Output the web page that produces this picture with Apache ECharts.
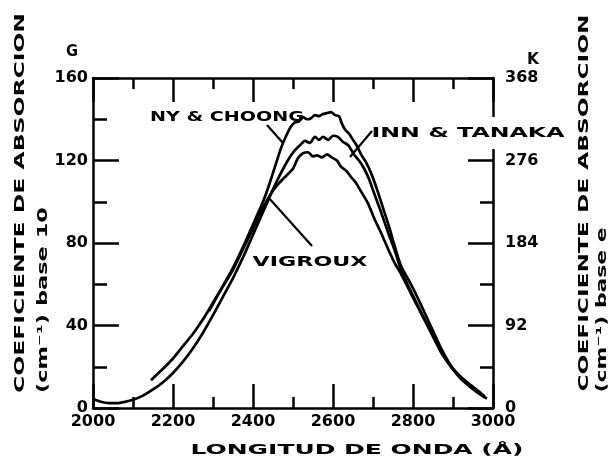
<!DOCTYPE html>
<html>
<head>
<meta charset="utf-8">
<script src="https://cdn.jsdelivr.net/npm/echarts@6/dist/echarts.min.js"></script>
<style>
  html, body { margin: 0; padding: 0; background: #fff; }
  #chart { width: 616px; height: 464px; }
</style>
</head>
<body>
<div id="chart"></div>
<script>
// ---- Data ----
const xTicks = [2000, 2200, 2400, 2600, 2800, 3000];
const yTicksBase10 = [0, 40, 80, 120, 160];
const yTicksBaseE = [0, 92, 184, 276, 368];

const wlNY = [2290, 2310, 2330, 2350, 2375, 2400, 2425, 2440, 2455, 2470, 2483, 2495, 2505, 2515, 2525, 2535, 2545, 2555, 2565, 2575, 2585, 2595, 2605, 2615, 2622, 2630, 2640, 2650, 2660, 2670, 2683, 2695, 2710, 2725, 2740, 2755, 2770, 2795, 2820, 2845, 2870, 2895, 2920, 2945, 2965, 2980];
const valNY = [47, 54, 61, 68, 78, 89, 100, 108, 117, 126, 132, 136.5, 138.5, 139, 141, 140, 140.5, 142, 141.5, 142.5, 143, 143.5, 142, 141.5, 138, 135, 133, 130, 127, 123, 119, 114, 106, 97, 88, 78, 69, 60, 50, 39.5, 29, 20.5, 15, 11, 8, 5.5];

const wlInn = [2000, 2020, 2040, 2060, 2080, 2100, 2125, 2150, 2175, 2200, 2225, 2250, 2275, 2300, 2325, 2350, 2375, 2400, 2425, 2450, 2470, 2490, 2505, 2518, 2530, 2542, 2555, 2565, 2575, 2588, 2600, 2612, 2625, 2638, 2652, 2665, 2678, 2690, 2703, 2720, 2738, 2755, 2770, 2795, 2820, 2845, 2870, 2895, 2920, 2945, 2965, 2985];
const valInn = [4.5, 3, 2.4, 2.4, 3, 4, 6, 9, 12.5, 17, 22.5, 29, 36.5, 45, 54, 63, 73, 84, 95, 106, 114, 121, 125, 127.5, 129.5, 128.5, 131.5, 130, 131.5, 130, 132, 131.5, 129, 127.5, 123, 120, 116, 111, 104, 95, 85, 76, 67, 56.5, 46.5, 37, 27.5, 20, 14.5, 10, 7, 4.5];

const wlVig = [2145, 2175, 2200, 2225, 2250, 2275, 2300, 2325, 2350, 2375, 2400, 2425, 2445, 2465, 2485, 2500, 2512, 2525, 2538, 2550, 2560, 2572, 2585, 2597, 2610, 2620, 2633, 2645, 2658, 2670, 2688, 2703, 2720, 2738, 2755, 2770, 2795, 2820, 2845, 2870, 2895, 2920, 2945, 2960];
const valVig = [13.5, 19, 24, 30, 36, 43, 51, 59, 67, 77, 87, 97, 104, 109, 113, 116, 121, 123.5, 124, 122, 122.5, 121.5, 123, 121.5, 120, 117, 115, 112, 109, 105, 99, 92, 85, 77, 70, 65, 55.5, 46, 36.5, 27, 20, 14, 10, 8];

const seriesNames = ['NY & CHOONG', 'INN & TANAKA', 'VIGROUX'];

// ---- Chart ----
const FAMILY = '"DejaVu Sans", sans-serif';
const zip = (xs, ys) => xs.map((x, i) => [x, ys[i]]);

const measureCtx = document.createElement('canvas').getContext('2d');
function measure(text, size) {
  measureCtx.font = 'bold ' + size + 'px "DejaVu Sans"';
  return measureCtx.measureText(text).width;
}
function stretched(text, cx, cy, len, size, vertical, extra) {
  const w = measure(text, size);
  return {
    type: 'text', x: cx, y: cy, z: 100,
    rotation: vertical ? Math.PI / 2 : 0,
    scaleX: len / w,
    style: Object.assign({
      text: text, fill: '#000',
      font: 'bold ' + size + 'px "DejaVu Sans"',
      align: 'center', verticalAlign: 'middle',
      textAlign: 'center', textVerticalAlign: 'middle'
    }, extra || {})
  };
}
function line(x1, y1, x2, y2) {
  return { type: 'line', z: 100, shape: { x1, y1, x2, y2 }, style: { stroke: '#000', lineWidth: 2.2 } };
}

const axisLineStyle = { color: '#000', width: 2.5 };
const labelStyle = { color: '#000', fontSize: 16, fontWeight: 'bold', fontFamily: FAMILY, formatter: v => String(v) };

function xAxisCfg(pos, showLabel) {
  return {
    type: 'value', position: pos, min: xTicks[0], max: xTicks[xTicks.length - 1],
    interval: xTicks[1] - xTicks[0],
    axisLine: { show: true, onZero: false, lineStyle: axisLineStyle },
    axisTick: { show: true, inside: true, length: 24, lineStyle: axisLineStyle },
    minorTick: { show: true, splitNumber: 2, length: 11, lineStyle: axisLineStyle },
    axisLabel: Object.assign({ show: showLabel, margin: 6 }, labelStyle),
    splitLine: { show: false }, minorSplitLine: { show: false }
  };
}

const chart = echarts.init(document.getElementById('chart'), null, { renderer: 'canvas' });
chart.setOption({
  animation: false,
  backgroundColor: '#fff',
  grid: { left: 93, right: 123, top: 78, bottom: 56, containLabel: false },
  xAxis: [xAxisCfg('bottom', true), xAxisCfg('top', false)],
  yAxis: [
    {
      type: 'value', position: 'left', min: yTicksBase10[0], max: yTicksBase10[yTicksBase10.length - 1],
      interval: yTicksBase10[1] - yTicksBase10[0],
      axisLine: { show: true, lineStyle: axisLineStyle },
      axisTick: { show: true, inside: true, length: 26, lineStyle: axisLineStyle },
      minorTick: { show: true, splitNumber: 2, length: 14, lineStyle: axisLineStyle },
      axisLabel: Object.assign({ margin: 5 }, labelStyle),
      splitLine: { show: false }
    },
    {
      type: 'value', position: 'right', min: yTicksBaseE[0], max: yTicksBaseE[yTicksBaseE.length - 1],
      interval: yTicksBaseE[1] - yTicksBaseE[0],
      axisLine: { show: true, lineStyle: axisLineStyle },
      axisTick: { show: true, inside: true, length: 25, lineStyle: axisLineStyle },
      minorTick: { show: true, splitNumber: 2, length: 13, lineStyle: axisLineStyle },
      axisLabel: Object.assign({ margin: 12 }, labelStyle),
      splitLine: { show: false }
    }
  ],
  series: [
    { name: seriesNames[0], type: 'line', data: zip(wlNY, valNY) },
    { name: seriesNames[1], type: 'line', data: zip(wlInn, valInn) },
    { name: seriesNames[2], type: 'line', data: zip(wlVig, valVig) }
  ].map(s => Object.assign(s, {
    xAxisIndex: 0, yAxisIndex: 0, symbol: 'none', smooth: 0.25,
    lineStyle: { color: '#000', width: 2.7 }
  })),
  graphic: { elements: [
    stretched('G', 72, 52, 12, 15, false),
    stretched('K', 533, 60, 12, 15, false),
    stretched('COEFICIENTE DE ABSORCION', 20, 203, 380, 14, true),
    stretched('(cm⁻¹) base 10', 43, 300, 186, 14, true),
    stretched('COEFICIENTE DE ABSORCION', 584, 203, 377, 14, true),
    stretched('(cm⁻¹) base e', 602, 310, 165, 14, true),
    stretched('LONGITUD DE ONDA (Å)', 357, 450, 333, 14, false),
    stretched(seriesNames[0], 227, 117, 154, 14, false),
    stretched(seriesNames[1], 468, 133, 193, 14, false, { backgroundColor: '#fff', padding: [9, 2] }),
    stretched(seriesNames[2], 310, 262, 115, 14, false),
    line(267, 125, 283, 143),
    line(372, 131, 350, 157),
    line(268, 197, 312, 246)
  ] }
});
</script>
</body>
</html>
